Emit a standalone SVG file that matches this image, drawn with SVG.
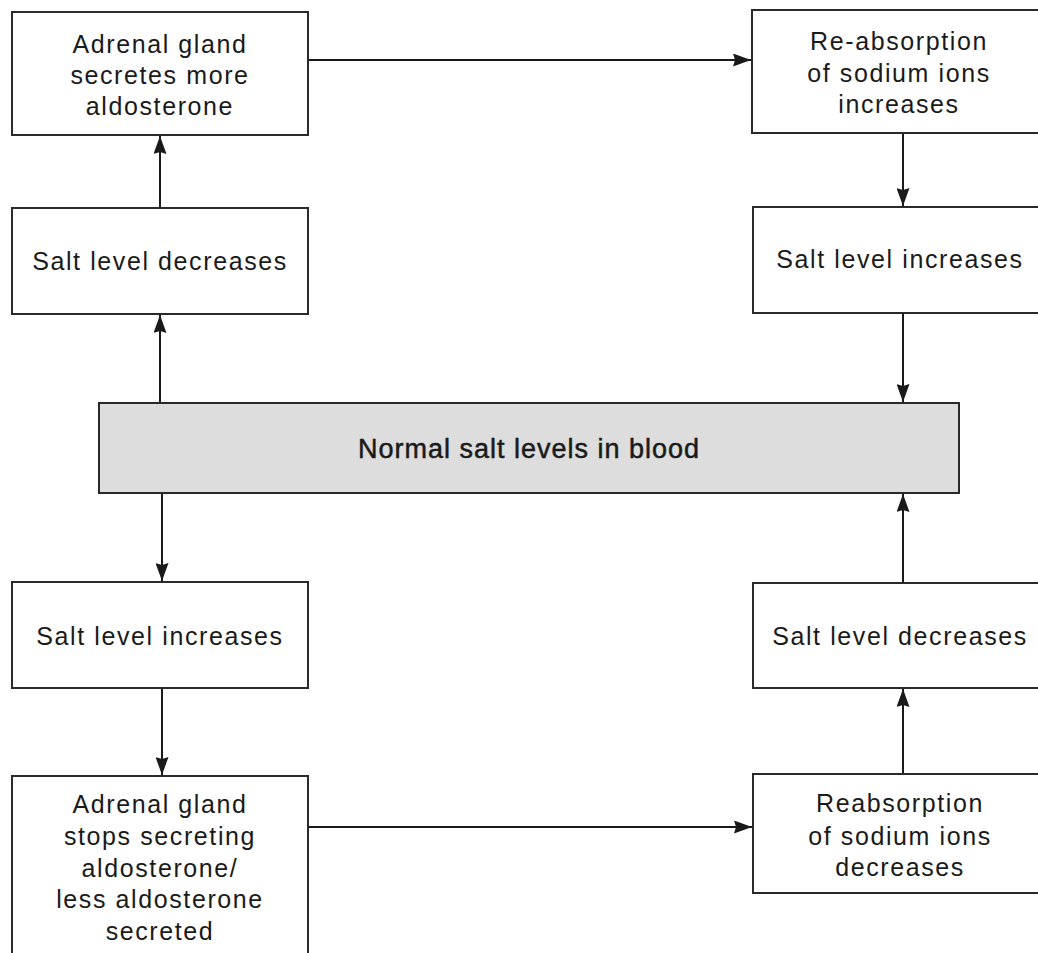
<svg xmlns="http://www.w3.org/2000/svg" width="1038" height="953" viewBox="0 0 1038 953">
<style>
.box{fill:#ffffff;stroke:#2a2a2a;stroke-width:2}
.mid{fill:#dcdddc;stroke:#2a2a2a;stroke-width:2}
.t{font-family:"Liberation Sans",Arial,sans-serif;font-size:25px;letter-spacing:1.6px;fill:#1a1a1a;text-anchor:middle}
.tm{font-family:"Liberation Sans",Arial,sans-serif;font-size:27px;letter-spacing:1px;fill:#1a1a1a;stroke:#1a1a1a;stroke-width:0.5;text-anchor:middle}
.c{fill:none;stroke:#1a1a1a;stroke-width:2;marker-end:url(#ah)}
</style>
<defs>
<marker id="ah" viewBox="0 0 18 13" refX="18" refY="6.5" markerWidth="18" markerHeight="13" markerUnits="userSpaceOnUse" orient="auto">
<path d="M0,0 L18,6.5 L0,13 L2,6.5 z" fill="#1a1a1a"/>
</marker>
</defs>
<rect width="1038" height="953" fill="#ffffff"/>
<g id="connectors">
<path class="c" d="M308,60 H751"/>
<path class="c" d="M160,208 V136"/>
<path class="c" d="M160,403 V315"/>
<path class="c" d="M903,133 V206"/>
<path class="c" d="M903,313 V402"/>
<path class="c" d="M162,493 V581"/>
<path class="c" d="M162,688 V775"/>
<path class="c" d="M308,827 H752"/>
<path class="c" d="M903,774 V689"/>
<path class="c" d="M903,582 V494"/>
</g>
<g id="n_adrenal_more">
<rect class="box" x="12" y="12" width="296" height="123"/>
<text class="t" x="160" y="53">Adrenal gland</text>
<text class="t" x="160" y="84">secretes more</text>
<text class="t" x="160" y="115">aldosterone</text>
</g>
<g id="n_salt_dec_left">
<rect class="box" x="12" y="208" width="296" height="106"/>
<text class="t" x="160" y="270">Salt level decreases</text>
</g>
<g id="n_reabs_inc">
<rect class="box" x="752" y="10" width="300" height="123"/>
<text class="t" x="899" y="50">Re-absorption</text>
<text class="t" x="899" y="82">of sodium ions</text>
<text class="t" x="899" y="113">increases</text>
</g>
<g id="n_salt_inc_right">
<rect class="box" x="753" y="207" width="300" height="106"/>
<text class="t" x="900" y="268">Salt level increases</text>
</g>
<g id="n_normal">
<rect class="mid" x="99" y="403" width="860" height="90"/>
<text class="tm" x="529" y="458">Normal salt levels in blood</text>
</g>
<g id="n_salt_inc_left">
<rect class="box" x="12" y="582" width="296" height="106"/>
<text class="t" x="160" y="645">Salt level increases</text>
</g>
<g id="n_salt_dec_right">
<rect class="box" x="753" y="583" width="300" height="105"/>
<text class="t" x="900" y="645">Salt level decreases</text>
</g>
<g id="n_adrenal_stops">
<rect class="box" x="12" y="776" width="296" height="200"/>
<text class="t" x="160" y="813">Adrenal gland</text>
<text class="t" x="160" y="845">stops secreting</text>
<text class="t" x="160" y="877">aldosterone/</text>
<text class="t" x="160" y="908">less aldosterone</text>
<text class="t" x="160" y="940">secreted</text>
</g>
<g id="n_reabs_dec">
<rect class="box" x="753" y="774" width="300" height="119"/>
<text class="t" x="900" y="812">Reabsorption</text>
<text class="t" x="900" y="845">of sodium ions</text>
<text class="t" x="900" y="876">decreases</text>
</g>
</svg>
